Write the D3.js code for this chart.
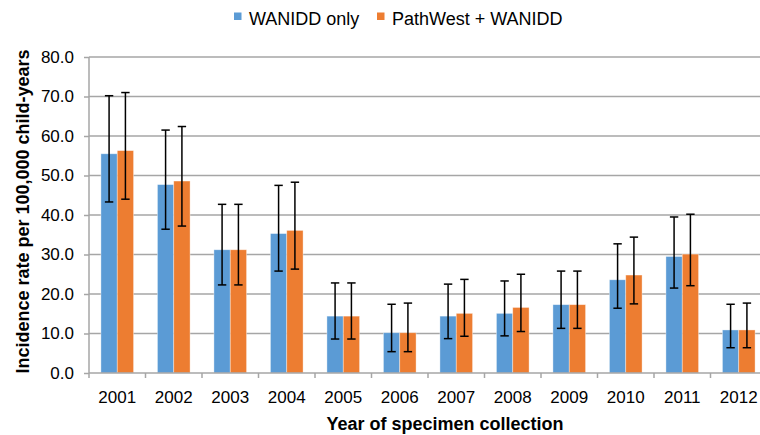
<!DOCTYPE html>
<html>
<head>
<meta charset="utf-8">
<script src="https://cdn.jsdelivr.net/npm/d3@7"></script>
<style>
  body { margin: 0; background: #fff; }
  svg { display: block; font-family: "Liberation Sans", Arial, sans-serif; }
</style>
</head>
<body>
<script>
var years = ["2001", "2002", "2003", "2004", "2005", "2006", "2007", "2008", "2009", "2010", "2011", "2012"];
var seriesNames = ["WANIDD only", "PathWest + WANIDD"];

var wanidd = [55.5, 47.7, 31.2, 35.3, 14.4, 10.2, 14.4, 15.1, 17.3, 23.6, 29.5, 10.9];
var wanLow = [43.3, 36.4, 22.3, 25.8, 8.6, 5.4, 8.7, 9.4, 11.3, 16.4, 21.5, 6.4];
var wanHigh = [70.2, 61.5, 42.7, 47.5, 22.8, 17.4, 22.5, 23.3, 25.8, 32.7, 39.5, 17.4];

var combined = [56.3, 48.6, 31.2, 36.1, 14.4, 10.2, 15.1, 16.6, 17.3, 24.8, 30.1, 10.9];
var combLow = [44.0, 37.2, 22.3, 26.3, 8.6, 5.4, 9.3, 10.5, 11.3, 17.5, 22.1, 6.4];
var combHigh = [71.0, 62.4, 42.7, 48.3, 22.8, 17.7, 23.7, 25.0, 25.8, 34.4, 40.2, 17.7];

var yTicks = [0, 10, 20, 30, 40, 50, 60, 70, 80];
var colors = ["#5b9bd5", "#ed7d31"];

var width = 760, height = 435;
var plotLeft = 89, plotRight = 767, plotTop = 57, plotBottom = 373;

var svg = d3.select("body").append("svg")
    .attr("width", width)
    .attr("height", height);

var x = d3.scaleBand().domain(years).range([plotLeft, plotRight]).padding(0);
var xs = d3.scaleBand().domain(seriesNames).range([0, x.bandwidth()])
    .paddingInner(0).paddingOuter(0.73);
var y = d3.scaleLinear().domain([0, 80]).range([plotBottom, plotTop]);

// gridlines
svg.append("g").selectAll("line")
    .data(yTicks.slice(1))
    .enter().append("line")
    .attr("x1", plotLeft).attr("x2", plotRight)
    .attr("y1", function(d) { return y(d); })
    .attr("y2", function(d) { return y(d); })
    .attr("stroke", "#a6a6a6")
    .attr("stroke-width", 1.5);

// bars
var rows = years.map(function(yr, i) {
  return [
    { year: yr, s: seriesNames[0], v: wanidd[i], lo: wanLow[i], hi: wanHigh[i], c: colors[0] },
    { year: yr, s: seriesNames[1], v: combined[i], lo: combLow[i], hi: combHigh[i], c: colors[1] }
  ];
});
var flat = [].concat.apply([], rows);

svg.append("g").selectAll("rect")
    .data(flat)
    .enter().append("rect")
    .attr("x", function(d) { return x(d.year) + xs(d.s); })
    .attr("y", function(d) { return y(d.v); })
    .attr("width", xs.bandwidth())
    .attr("height", function(d) { return y(0) - y(d.v); })
    .attr("fill", function(d) { return d.c; })
    .attr("stroke", "#fff")
    .attr("stroke-opacity", 0.5)
    .attr("stroke-width", 0.75);

// error bars
var eb = svg.append("g").attr("stroke", "#000").attr("stroke-width", 1.5);
var capW = 4.2;
flat.forEach(function(d) {
  var cx = x(d.year) + xs(d.s) + xs.bandwidth() / 2;
  eb.append("line").attr("x1", cx).attr("x2", cx).attr("y1", y(d.hi)).attr("y2", y(d.lo));
  eb.append("line").attr("x1", cx - capW).attr("x2", cx + capW).attr("y1", y(d.hi)).attr("y2", y(d.hi));
  eb.append("line").attr("x1", cx - capW).attr("x2", cx + capW).attr("y1", y(d.lo)).attr("y2", y(d.lo));
});

// y axis
var yAxis = svg.append("g")
    .attr("transform", "translate(" + plotLeft + ",0)")
    .call(d3.axisLeft(y).tickValues(yTicks).tickFormat(d3.format(".1f")).tickSize(5).tickSizeOuter(0).tickPadding(10));
yAxis.select(".domain").remove();
yAxis.selectAll(".tick line").attr("stroke", "#a6a6a6").attr("stroke-width", 1.5);
yAxis.selectAll("text").attr("font-size", 17).attr("fill", "#000")
    .style("font-family", "'Liberation Sans', Arial, sans-serif");

svg.append("line")
    .attr("x1", plotLeft).attr("x2", plotLeft)
    .attr("y1", plotTop).attr("y2", plotBottom + 5)
    .attr("stroke", "#a6a6a6").attr("stroke-width", 1.5);

// x axis
svg.append("line")
    .attr("x1", plotLeft).attr("x2", plotRight)
    .attr("y1", plotBottom).attr("y2", plotBottom)
    .attr("stroke", "#a6a6a6").attr("stroke-width", 1.5);

var bounds = years.map(function(d) { return x(d); }).concat([plotRight]);
svg.append("g").selectAll("line")
    .data(bounds.slice(1))
    .enter().append("line")
    .attr("x1", function(d) { return d; }).attr("x2", function(d) { return d; })
    .attr("y1", plotBottom).attr("y2", plotBottom + 5)
    .attr("stroke", "#a6a6a6").attr("stroke-width", 1.5);

var xAxis = svg.append("g")
    .attr("transform", "translate(0," + plotBottom + ")")
    .call(d3.axisBottom(x).tickSize(0).tickPadding(18));
xAxis.select(".domain").remove();
xAxis.selectAll("text").attr("font-size", 17).attr("fill", "#000")
    .style("font-family", "'Liberation Sans', Arial, sans-serif");

// axis titles
svg.append("text")
    .attr("x", 445).attr("y", 430)
    .attr("text-anchor", "middle")
    .attr("font-size", 18).attr("font-weight", "bold")
    .text("Year of specimen collection");

svg.append("text")
    .attr("transform", "translate(29,211.5) rotate(-90)")
    .attr("text-anchor", "middle")
    .attr("font-size", 18).attr("font-weight", "bold")
    .text("Incidence rate per 100,000 child-years");

// legend
var legendX = [234, 377];
var legend = svg.append("g").selectAll("g")
    .data(seriesNames)
    .enter().append("g")
    .attr("transform", function(d, i) { return "translate(" + legendX[i] + ",0)"; });
legend.append("rect")
    .attr("x", 0).attr("y", 12.5)
    .attr("width", 7.5).attr("height", 7.5)
    .attr("fill", function(d, i) { return colors[i]; });
legend.append("text")
    .attr("x", 15).attr("y", 25)
    .attr("font-size", 18)
    .text(function(d) { return d; });
</script>
</body>
</html>
